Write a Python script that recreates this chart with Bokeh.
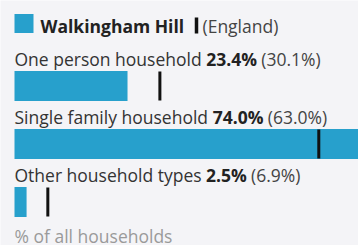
from bokeh.plotting import figure
from bokeh.models import Range1d, ColumnDataSource
from bokeh.core.properties import value
from bokeh.embed import file_html
from bokeh.resources import INLINE

# ---- data ----
categories = ["One person household", "Single family household", "Other household types"]
area_values = [23.4, 74.0, 2.5]
england_values = [30.1, 63.0, 6.9]
area_name = "Walkingham Hill"
comparison_name = "(England)"
footnote = "% of all households"

BLUE = "#27a0cc"
BG = "#f4f4f7"
FONT = "Open Sans"
FS = 17.5
DY = -6  # baseline correction for svg text

W, H = 358, 245
PX_PER_PCT = 4.83
X0 = 14  # pixel position of 0%
x_start = -X0 / PX_PER_PCT
x_end = (W - X0) / PX_PER_PCT


def px(v):
    """pixel -> data x"""
    return (v - X0) / PX_PER_PCT


# approximate Open Sans advance widths (1/1000 em)
REG = dict(zip("abcdefghijklmnopqrstuvwxyz",
               [556, 613, 476, 613, 561, 336, 541, 613, 253, 253, 524, 253, 930,
                613, 604, 613, 613, 408, 477, 353, 613, 500, 775, 518, 500, 468]))
REG.update({" ": 260, "(": 296, ")": 296, "%": 821, ".": 252, "O": 779, "S": 549,
            "W": 924, "E": 556})
for d in "0123456789":
    REG[d] = 572
BOLD = {" ": 260, ".": 285, "%": 880}
for d in "0123456789":
    BOLD[d] = 572


def tw(s, table):
    return sum(table.get(ch, 600) for ch in s) * FS / 1000.0


p = figure(width=W, height=H, output_backend="svg", toolbar_location=None,
           x_range=Range1d(x_start, x_end), y_range=Range1d(H, 0),
           min_border=0, background_fill_color=BG, border_fill_color=BG,
           outline_line_color=None)
p.axis.visible = False
p.grid.visible = False

ROW0 = 64
ROW_STEP = 58
n = len(categories)
baselines = [ROW0 + ROW_STEP * i for i in range(n)]

src = ColumnDataSource(dict(
    y=[b + 21.5 for b in baselines],
    area=area_values,
    eng=england_values,
    mtop=[b + 7 for b in baselines],
    mbot=[b + 36 for b in baselines],
    zero=[0] * n,
    base=baselines,
    cat=categories,
))

p.hbar(y="y", left="zero", right="area", height=30, source=src,
       fill_color=BLUE, line_color=None)
p.segment(x0="eng", x1="eng", y0="mtop", y1="mbot", source=src,
          line_color="#111111", line_width=3)

p.text(x="zero", y="base", text="cat", source=src, text_font=value(FONT), y_offset=DY,
       text_font_size=f"{FS}px", text_color="#333333", text_baseline="alphabetic")

for i in range(n):
    aval = f"{area_values[i]:.1f}%"
    off1 = tw(categories[i] + " ", REG)
    p.text(x=[0], y=[baselines[i]], text=[aval], x_offset=off1, y_offset=DY,
           text_font=value(FONT), text_font_size=f"{FS}px", text_font_style="bold",
           text_color="#222222", text_baseline="alphabetic")
    off2 = off1 + tw(aval + " ", BOLD)
    p.text(x=[0], y=[baselines[i]], text=[f"({england_values[i]:.1f}%)"], x_offset=off2,
           y_offset=DY, text_font=value(FONT), text_font_size=f"{FS}px",
           text_color="#444444", text_baseline="alphabetic")

# legend
p.rect(x=[px(23.5)], y=[23], width=19, height=19, width_units="screen",
       height_units="screen", fill_color=BLUE, line_color=None)
p.text(x=[px(40)], y=[31], text=[area_name], text_font=value(FONT), y_offset=DY,
       text_font_size=f"{FS}px", text_font_style="bold", text_color="#222222",
       text_baseline="alphabetic")
p.segment(x0=[px(196)], x1=[px(196)], y0=[17], y1=[33], line_color="#111111",
          line_width=3.5)
p.text(x=[px(202)], y=[31], text=[comparison_name], text_font=value(FONT), y_offset=DY,
       text_font_size=f"{FS}px", text_color="#444444", text_baseline="alphabetic")

# footnote
p.text(x=[0], y=[241], text=[footnote], text_font=value(FONT), text_font_size=f"{FS}px",
       y_offset=DY, text_color="#9a9a9a", text_baseline="alphabetic")

open("out.html", "w").write(file_html(p, INLINE))
